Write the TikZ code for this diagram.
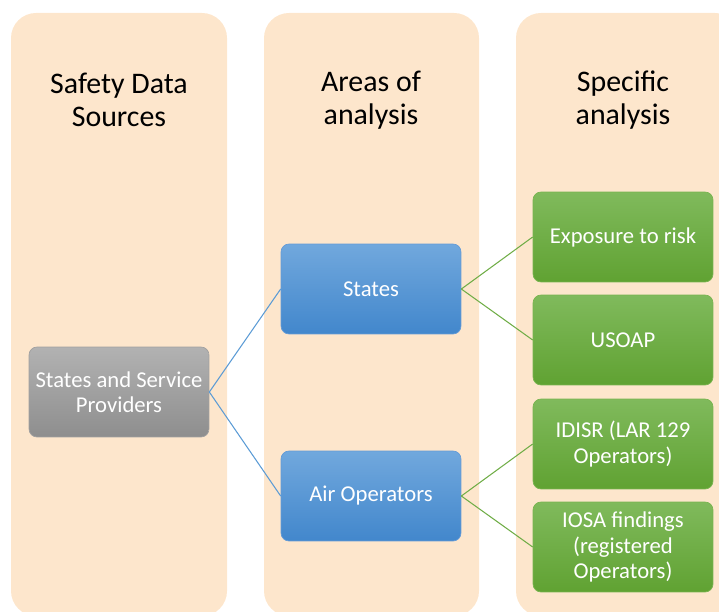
\documentclass[tikz,border=0pt]{standalone}
\usepackage{fontspec}
\setmainfont{Carlito}
\definecolor{peach}{RGB}{253,230,204}
\definecolor{blueln}{RGB}{91,155,213}
\definecolor{greenln}{RGB}{112,173,71}
\tikzset{col/.append style={fill=peach,rounded corners=0.5cm}}
\tikzset{hd/.append style={align=center,font=\fontsize{17}{18.5}\selectfont}}
\tikzset{bx/.append style={rounded corners=0.16cm,minimum width=3.6cm,minimum height=1.8cm,
  align=center,text=white,font=\fontsize{12.9}{14.3}\selectfont}}
\tikzset{gy/.append style={top color={rgb,255:red,178;green,178;blue,178},bottom color={rgb,255:red,142;green,142;blue,142},draw={rgb,255:red,160;green,160;blue,160}}}
\tikzset{bl/.append style={top color={rgb,255:red,113;green,168;blue,221},bottom color={rgb,255:red,66;green,135;blue,204},draw={rgb,255:red,100;green,155;blue,215}}}
\tikzset{gr/.append style={top color={rgb,255:red,128;green,186;blue,92},bottom color={rgb,255:red,96;green,162;blue,50},draw={rgb,255:red,120;green,180;blue,80}}}

\begin{document}
\begin{tikzpicture}[x=0.02cm,y=-0.02cm]
                \useasboundingbox (0,0) rectangle (719,611);
                % columns
                \fill[col] (11,13) rectangle (227,616);
                \fill[col] (264,13) rectangle (479,616);
                \fill[col] (516,13) rectangle (740,616);
                \node[hd] (h1) at (119,100) {Safety Data\\Sources};
                \node[hd] (h2) at (371,100) {Areas of\\analysis};
                \node[hd] (h3) at (623,100) {Specific\\analysis};
                % boxes
                \node[bx,gy] (src) at (119,392) {States and Service\\Providers};
                \node[bx,bl] (st) at (371,289) {States};
                \node[bx,bl] (ao) at (371,496) {Air Operators};
                \node[bx,gr] (exp) at (623,237) {Exposure to risk};
                \node[bx,gr] (uso) at (623,340) {USOAP};
                \node[bx,gr] (idi) at (623,444) {IDISR (LAR 129\\Operators)};
                \node[bx,gr] (ios) at (623,547) {IOSA findings\\(registered\\Operators)};
                \path[draw=blueln,line width=0.6pt] (src.east) edge (st.west) edge (ao.west);
                \path[draw=greenln,line width=0.6pt] (st.east) edge (exp.west) edge (uso.west);
                \path[draw=greenln,line width=0.6pt] (ao.east) edge (idi.west) edge (ios.west);
            \end{tikzpicture}
\end{document}
